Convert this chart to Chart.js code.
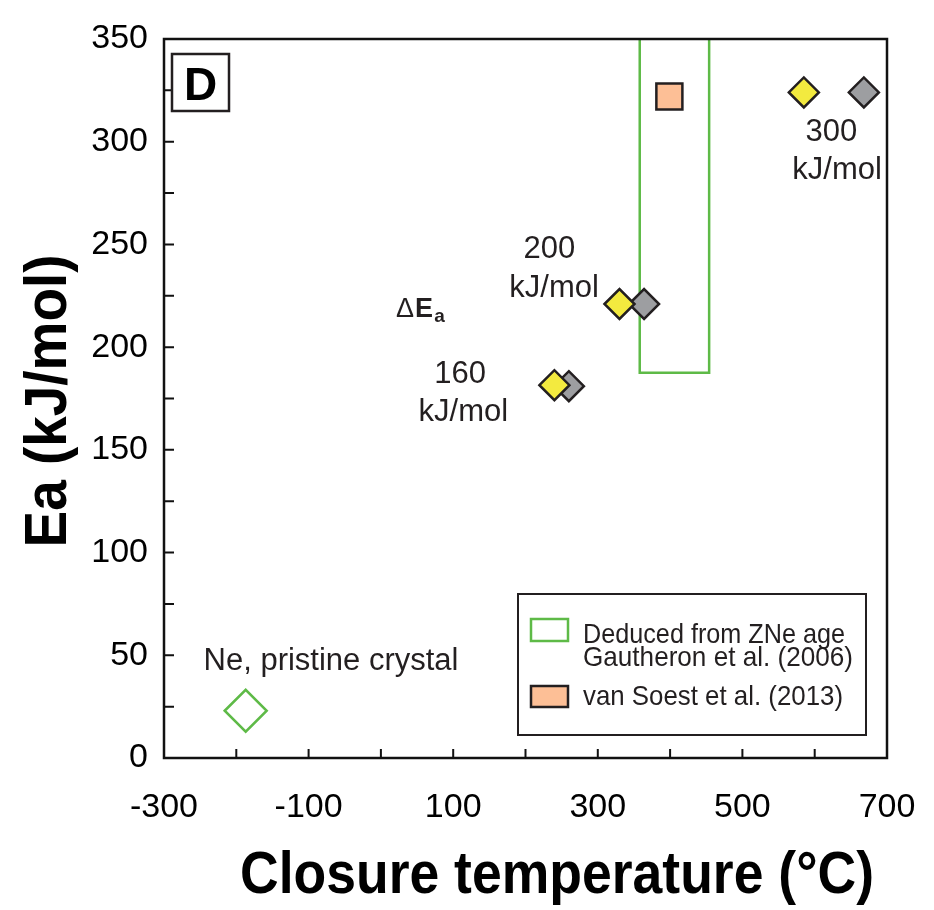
<!DOCTYPE html>
<html>
<head>
<meta charset="utf-8">
<script src="https://cdn.jsdelivr.net/npm/chart.js@4.4.1/dist/chart.umd.min.js"></script>
<style>
  html, body { margin: 0; padding: 0; background: #fff; }
  #wrap { width: 934px; height: 910px; }
</style>
</head>
<body>
<div id="wrap"><canvas id="chart" width="934" height="910"></canvas></div>
<script>
// -----------------------------------------------------------------
// data
const xTickLabels = [-300, -100, 100, 300, 500, 700];
const yTickLabels = [0, 50, 100, 150, 200, 250, 300, 350];

const deltaEa = ['160', '200', '300'];
const yellowT = [240, 330, 585];
const yellowEa = [181.5, 221, 324];
const greyT = [260, 364, 668];
const greyEa = [181, 221, 324];

const pristineT = [-187];
const pristineEa = [23];

const vanSoestT = [399];
const vanSoestEa = [322];

// box deduced from ZNe age (open at the top of the plot)
const gautheronT = [358, 358, 454, 454];
const gautheronEa = [350, 187.5, 187.5, 350];

const legendLabels = [
  ['Deduced from ZNe age', 'Gautheron et al. (2006)'],
  ['van Soest et al. (2013)'],
];

// -----------------------------------------------------------------
const FONT = '"Liberation Sans", Arial, Helvetica, sans-serif';
const INK = '#231f20';
const GREEN = '#5eba47';
const YELLOW = '#f3ea3f';
const GREY = '#9d9ea1';
const ORANGE = '#fdbf96';

Chart.defaults.font.family = FONT;
Chart.defaults.color = '#000';

const toPoints = (xs, ys) => xs.map((x, i) => ({ x, y: ys[i] }));

// label positions in data units
const notes = [
  { text: deltaEa[2], x: 623, y: 300.3 },
  { text: 'kJ/mol', x: 631, y: 281.9 },
  { text: deltaEa[1], x: 233, y: 243.4 },
  { text: 'kJ/mol', x: 239.5, y: 224.4 },
  { text: deltaEa[0], x: 109.5, y: 182.5 },
  { text: 'kJ/mol', x: 114, y: 164 },
  { text: 'Ne, pristine crystal', x: -69, y: 42.8 },
];

const framePlugin = {
  id: 'frame',
  afterDatasetsDraw(chart) {
    const { ctx, chartArea: a, scales: { x, y } } = chart;
    ctx.save();
    ctx.strokeStyle = '#111';
    ctx.lineWidth = 2;
    ctx.beginPath();
    x.ticks.forEach((t) => {
      if (t.value <= x.min || t.value >= x.max) return;
      const px = x.getPixelForValue(t.value);
      ctx.moveTo(px, a.bottom);
      ctx.lineTo(px, a.bottom - 9);
    });
    y.ticks.forEach((t) => {
      if (t.value <= y.min || t.value >= y.max) return;
      const py = y.getPixelForValue(t.value);
      ctx.moveTo(a.left, py);
      ctx.lineTo(a.left + 10, py);
    });
    ctx.stroke();

    ctx.lineWidth = 2.5;
    ctx.strokeRect(a.left, a.top, a.width, a.height);
    ctx.restore();
  },
  afterDraw(chart) {
    const { ctx, chartArea: a, scales: { x, y } } = chart;
    ctx.save();

    // annotations
    ctx.fillStyle = INK;
    ctx.font = '31px ' + FONT;
    ctx.textAlign = 'center';
    ctx.textBaseline = 'alphabetic';
    notes.forEach((n) => {
      ctx.fillText(n.text, x.getPixelForValue(n.x), y.getPixelForValue(n.y));
    });

    // Delta E_a
    ctx.textAlign = 'left';
    const dx = x.getPixelForValue(21);
    const dy = y.getPixelForValue(214.6);
    ctx.font = '27px ' + FONT;
    ctx.fillText('\u0394', dx, dy);
    let w = ctx.measureText('\u0394').width;
    ctx.font = 'bold 27px ' + FONT;
    ctx.fillText('E', dx + w + 1, dy);
    w += ctx.measureText('E').width + 1;
    ctx.font = 'bold 19px ' + FONT;
    ctx.fillText('a', dx + w + 1, dy + 5);

    // panel letter
    ctx.fillStyle = '#fff';
    ctx.fillRect(a.left + 8, a.top + 15, 57, 57);
    ctx.strokeStyle = INK;
    ctx.lineWidth = 2.5;
    ctx.strokeRect(a.left + 8, a.top + 15, 57, 57);
    ctx.fillStyle = '#000';
    ctx.font = 'bold 46px ' + FONT;
    ctx.textAlign = 'center';
    ctx.fillText('D', a.left + 36.5, a.top + 61);

    // legend box
    const lx = 518, ly = 594, lw = 348, lh = 141;
    ctx.fillStyle = '#fff';
    ctx.fillRect(lx, ly, lw, lh);
    ctx.lineWidth = 2;
    ctx.strokeStyle = INK;
    ctx.strokeRect(lx, ly, lw, lh);

    ctx.lineWidth = 2.5;
    ctx.strokeStyle = GREEN;
    ctx.strokeRect(lx + 13, ly + 25, 37, 22);

    ctx.fillStyle = ORANGE;
    ctx.fillRect(lx + 13, ly + 92, 37, 21);
    ctx.strokeStyle = INK;
    ctx.strokeRect(lx + 13, ly + 92, 37, 21);

    ctx.fillStyle = INK;
    ctx.font = '28px ' + FONT;
    ctx.textAlign = 'left';
    ctx.fillText(legendLabels[0][0], lx + 65, ly + 49, 262);
    ctx.fillText(legendLabels[0][1], lx + 65, ly + 72, 270);
    ctx.fillText(legendLabels[1][0], lx + 65, ly + 111, 260);

    // axis titles
    ctx.fillStyle = '#000';
    ctx.font = 'bold 60px ' + FONT;
    ctx.textAlign = 'center';
    ctx.fillText('Closure temperature (\u00B0C)', 557, 893, 634);

    ctx.translate(66, 401);
    ctx.rotate(-Math.PI / 2);
    ctx.fillText('Ea (kJ/mol)', 0, 0, 293);
    ctx.restore();
  },
};

const chart = new Chart(document.getElementById('chart'), {
  type: 'scatter',
  data: {
    datasets: [
      {
        label: 'Ea yellow',
        data: toPoints(yellowT, yellowEa),
        pointStyle: 'rectRot',
        pointRadius: 15,
        backgroundColor: YELLOW,
        borderColor: INK,
        borderWidth: 2.5,
        order: 0,
      },
      {
        label: 'Ea grey',
        data: toPoints(greyT, greyEa),
        pointStyle: 'rectRot',
        pointRadius: 15,
        backgroundColor: GREY,
        borderColor: INK,
        borderWidth: 2.5,
        order: 1,
      },
      {
        label: legendLabels[1][0],
        data: toPoints(vanSoestT, vanSoestEa),
        pointStyle: 'rect',
        pointRadius: 18.4,
        backgroundColor: ORANGE,
        borderColor: INK,
        borderWidth: 2.5,
        order: 2,
      },
      {
        label: 'Ne, pristine crystal',
        data: toPoints(pristineT, pristineEa),
        pointStyle: 'rectRot',
        pointRadius: 21,
        backgroundColor: 'rgba(0,0,0,0)',
        borderColor: GREEN,
        borderWidth: 2.5,
        order: 3,
      },
      {
        label: legendLabels[0].join(' '),
        data: toPoints(gautheronT, gautheronEa),
        showLine: true,
        pointRadius: 0,
        borderColor: GREEN,
        borderWidth: 2.5,
        fill: false,
        tension: 0,
        order: 4,
      },
    ],
  },
  options: {
    responsive: false,
    animation: false,
    events: [],
    layout: { padding: { top: 39, right: 47, left: 0, bottom: 0 } },
    plugins: {
      legend: { display: false },
      tooltip: { enabled: false },
    },
    scales: {
      x: {
        type: 'linear',
        min: -300,
        max: 700,
        grid: { display: false },
        border: { display: false },
        ticks: {
          stepSize: 100,
          autoSkip: false,
          maxRotation: 0,
          padding: 21,
          color: '#000',
          font: { size: 34 },
          callback: (v) => (xTickLabels.includes(v) ? String(v) : ''),
        },
        afterFit: (scale) => {
          scale.height = 152;
          scale.paddingLeft = 0;
          scale.paddingRight = 0;
        },
      },
      y: {
        type: 'linear',
        min: 0,
        max: 350,
        grid: { display: false },
        border: { display: false },
        ticks: {
          stepSize: 25,
          autoSkip: false,
          padding: 8,
          color: '#000',
          font: { size: 34 },
          callback: (v) => (yTickLabels.includes(v) ? String(v) : ''),
        },
        afterFit: (scale) => {
          scale.width = 164;
          scale.paddingTop = 0;
          scale.paddingBottom = 0;
        },
      },
    },
  },
  plugins: [framePlugin],
});
</script>
</body>
</html>
